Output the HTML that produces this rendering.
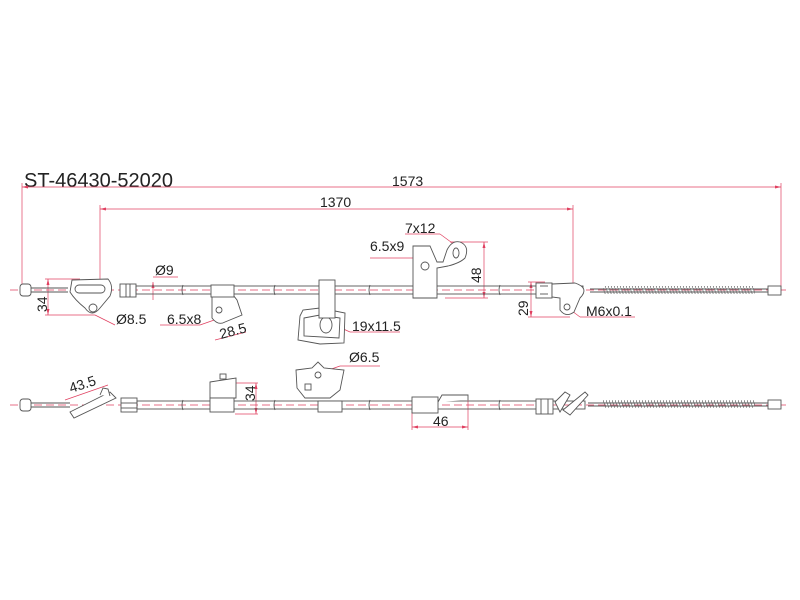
<!DOCTYPE html>
<html><head><meta charset="utf-8"><style>
html,body{margin:0;padding:0;background:#fff;}
svg{display:block;}
text{font-family:"Liberation Sans",Arial,sans-serif;fill:#222;}
</style></head><body>
<svg width="800" height="600" viewBox="0 0 800 600" xmlns="http://www.w3.org/2000/svg">
<defs>
<pattern id="spr" width="3" height="8" patternUnits="userSpaceOnUse">
<path d="M0 0 L3 8" stroke="#666" stroke-width="0.7"/>
</pattern>
</defs>
<text x="24" y="187" font-size="20">ST-46430-52020</text>

<g stroke="#e04060" stroke-width="0.7" fill="none">
<line x1="22" y1="187" x2="781" y2="187"/>
<line x1="22" y1="183" x2="22" y2="290"/>
<line x1="781" y1="183" x2="781" y2="290"/>
<line x1="100" y1="209" x2="573" y2="209"/>
<line x1="100" y1="205" x2="100" y2="292"/>
<line x1="573" y1="205" x2="573" y2="292"/>
<line x1="10" y1="290" x2="790" y2="290" stroke-dasharray="8,4"/>
<line x1="10" y1="405" x2="790" y2="405" stroke-dasharray="8,4"/>
<line x1="45" y1="279" x2="80" y2="279"/><line x1="45" y1="315" x2="95" y2="315"/>
<line x1="48" y1="279" x2="48" y2="315"/>
<line x1="153" y1="282" x2="153" y2="300"/><line x1="153" y1="277" x2="178" y2="277"/>
<line x1="450" y1="242" x2="488" y2="242"/><line x1="445" y1="298" x2="488" y2="298"/>
<line x1="484" y1="242" x2="484" y2="298"/>
<line x1="528" y1="282" x2="545" y2="282"/><line x1="528" y1="317" x2="570" y2="317"/>
<line x1="531" y1="282" x2="531" y2="317"/>
<line x1="235" y1="383" x2="258" y2="383"/><line x1="235" y1="414" x2="258" y2="414"/>
<line x1="256" y1="383" x2="256" y2="414"/>
<line x1="412" y1="412" x2="412" y2="430"/><line x1="468" y1="400" x2="468" y2="430"/>
<line x1="412" y1="427" x2="468" y2="427"/>
<line x1="65" y1="400" x2="108" y2="385"/>
<line x1="95" y1="315" x2="115" y2="325"/>
<line x1="220" y1="318" x2="200" y2="325"/><line x1="160" y1="325" x2="200" y2="325"/>
<line x1="215" y1="340" x2="246" y2="332"/>
<line x1="328" y1="322" x2="350" y2="332"/><line x1="350" y1="332" x2="400" y2="332"/>
<line x1="426" y1="266" x2="415" y2="258"/><line x1="370" y1="258" x2="415" y2="258"/>
<line x1="455" y1="245" x2="440" y2="234"/><line x1="405" y1="234" x2="440" y2="234"/>
<line x1="568" y1="308" x2="580" y2="317"/><line x1="580" y1="317" x2="635" y2="317"/>
<line x1="320" y1="373" x2="340" y2="366"/><line x1="340" y1="366" x2="380" y2="366"/>
</g>
<g fill="#e04060">
<path d="M22 187 l6 -1.5 v3z M781 187 l-6 -1.5 v3z M100 209 l6 -1.5 v3z M573 209 l-6 -1.5 v3z"/>
<path d="M48 279 l-1.5 6 h3z M48 315 l-1.5 -6 h3z M484 242 l-1.5 6 h3z M484 298 l-1.5 -6 h3z"/>
<path d="M531 282 l-1.5 6 h3z M531 317 l-1.5 -6 h3z M256 383 l-1.5 6 h3z M256 414 l-1.5 -6 h3z"/>
<path d="M412 427 l6 -1.5 v3z M468 427 l-6 -1.5 v3z M153 282 l-1.5 6 h3z"/>
</g>

<g font-size="14">
<text x="392" y="186">1573</text>
<text x="320" y="207">1370</text>
<text x="155" y="275">Ø9</text>
<text x="116" y="324">Ø8.5</text>
<text x="167" y="324">6.5x8</text>
<text x="221" y="339" transform="rotate(-15 221 339)">28.5</text>
<text x="352" y="331">19x11.5</text>
<text x="370" y="251">6.5x9</text>
<text x="405" y="233">7x12</text>
<text x="586" y="316">M6x0.1</text>
<text x="349" y="362">Ø6.5</text>
<text x="433" y="426">46</text>
<text x="71" y="393" transform="rotate(-18 71 393)">43.5</text>
<text x="0" y="0" transform="translate(47 312) rotate(-90)">34</text>
<text x="0" y="0" transform="translate(481 283) rotate(-90)">48</text>
<text x="0" y="0" transform="translate(528 316) rotate(-90)">29</text>
<text x="0" y="0" transform="translate(255 401) rotate(-90)">34</text>
</g>

<g stroke="#555" stroke-width="0.9" fill="#fff">
<rect x="20" y="284" width="11" height="12" rx="3"/>
<line x1="31" y1="288" x2="68" y2="288"/><line x1="31" y1="292" x2="68" y2="292"/>
<path d="M72 280 L108 279 Q114 286 110 296 L100 308 Q92 318 85 308 Q75 300 70 292 Z"/>
<rect x="75" y="285" width="30" height="8" rx="4"/>
<circle cx="93" cy="308" r="4"/>
<rect x="120" y="284" width="16" height="13"/>
<line x1="126" y1="284" x2="126" y2="297"/><line x1="130" y1="284" x2="130" y2="297"/>
<rect x="136" y="286" width="447" height="8" fill="none"/>
<path d="M183 285 q-2 5 0 10 M275 285 q-2 5 0 10 M370 285 q-2 5 0 10 M500 285 q-2 5 0 10" fill="none"/>
<path d="M212 295 L212 318 Q218 326 225 322 L242 315 L237 300 L233 295 Z"/>
<circle cx="219" cy="310" r="3"/>
<rect x="211" y="285" width="23" height="12"/>
<path d="M300 316 L303 310 L320 308 L345 313 L344 343 L320 344 L298 340 Z"/>
<path d="M304 318 L320 315 L340 318 L339 338 L304 336 Z"/>
<ellipse cx="326" cy="325" rx="6" ry="8"/>
<rect x="319" y="280" width="16" height="38"/>
<path d="M413 246 L413 298 L437 298 L437 268 L448 266 Q460 263 465 258 Q470 246 460 242 Q452 240 447 250 L443 262 L437 262 L430 246 Z"/>
<circle cx="425" cy="266" r="4"/>
<ellipse cx="456" cy="253" rx="3" ry="5"/>
<rect x="536" y="283" width="16" height="15"/>
<line x1="540" y1="286" x2="548" y2="286"/><line x1="540" y1="294" x2="548" y2="294"/>
<path d="M552 284 L575 283 Q590 288 580 298 L574 312 Q566 318 560 310 L560 298 L552 297 Z"/>
<circle cx="567" cy="307" r="3"/>
<line x1="590" y1="289" x2="770" y2="289"/><line x1="590" y1="292" x2="770" y2="292"/>
<rect x="603" y="286" width="152" height="8" fill="url(#spr)" stroke="none"/>
<rect x="768" y="286" width="13" height="9"/>

<rect x="20" y="399" width="11" height="12" rx="3"/>
<line x1="31" y1="403" x2="70" y2="403"/><line x1="31" y1="407" x2="70" y2="407"/>
<path d="M70 412 L110 392 L116 398 L74 418 Z"/>
<path d="M100 395 L103 388 L108 389 L110 396" />
<rect x="121" y="398" width="16" height="14"/>
<line x1="121" y1="403" x2="137" y2="403"/><line x1="121" y1="408" x2="137" y2="408"/>
<rect x="137" y="401" width="448" height="8" fill="none"/>
<path d="M183 400 q-2 5 0 10 M275 400 q-2 5 0 10 M370 400 q-2 5 0 10 M500 400 q-2 5 0 10" fill="none"/>
<path d="M210 382 L236 378 L236 398 L210 398 Z"/>
<rect x="220" y="374" width="6" height="5"/>
<rect x="210" y="398" width="24" height="14"/>
<path d="M296 370 L312 368 L318 362 L324 368 L344 370 L340 390 L330 398 L305 398 L297 388 Z"/>
<circle cx="318" cy="375" r="3"/>
<rect x="305" y="384" width="6" height="6"/>
<rect x="318" y="401" width="24" height="11"/>
<rect x="412" y="397" width="26" height="16"/>
<path d="M438 402 L442 395 L468 395 L468 400"/>
<rect x="536" y="399" width="17" height="15"/>
<line x1="541" y1="399" x2="541" y2="414"/><line x1="548" y1="399" x2="548" y2="414"/>
<path d="M555 402 L565 392 L570 395 L560 412 Z M563 410 L585 392 L588 395 L570 415 Z"/>
<line x1="588" y1="403" x2="770" y2="403"/><line x1="588" y1="406" x2="770" y2="406"/>
<rect x="603" y="400" width="152" height="8" fill="url(#spr)" stroke="none"/>
<rect x="768" y="400" width="13" height="9"/>
</g>
</svg>
</body></html>
